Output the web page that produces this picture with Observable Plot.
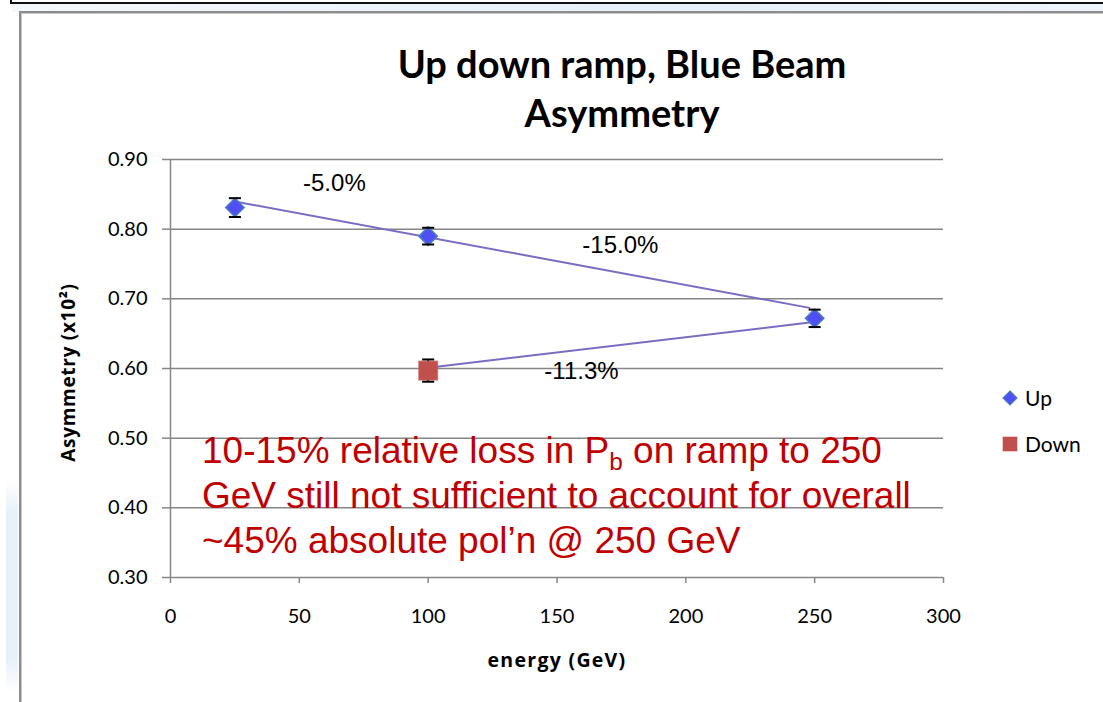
<!DOCTYPE html>
<html>
<head>
<meta charset="utf-8">
<script src="https://cdn.jsdelivr.net/npm/d3@7"></script>
<script src="https://cdn.jsdelivr.net/npm/@observablehq/plot@0.6"></script>
<style>
  html, body { margin: 0; padding: 0; background: #fff; }
  #wrap { position: relative; width: 1103px; height: 702px; overflow: hidden; background: #fff; }
  #wrap svg.plot { position: absolute; left: 0; top: 0; }
  .topline { position: absolute; left: 11px; top: 2px; right: 0; height: 2px; background: #111; }
  .topcorner { position: absolute; left: 10px; top: 0; width: 2px; height: 4px; background: #111; }
  .topband { position: absolute; left: 12px; top: 4px; right: 0; height: 8px; background: linear-gradient(90deg, #f4f8fc, #e6f0fa 60%, #eef5fb); }
  .sideband { position: absolute; left: 6px; top: 480px; width: 12px; height: 212px; background: linear-gradient(180deg, rgba(230,240,250,0), #e8f1fa 15%, #e8f1fa 85%, rgba(230,240,250,0)); }
  .frame { position: absolute; left: 19px; top: 11px; right: -4px; bottom: -4px; border-left: 2px solid #8c8c8c; border-top: 2px solid #8c8c8c; box-shadow: inset 1px 1px 0 #c8c8c8; }
  .title { position: absolute; left: 272px; width: 700px; top: 39px; text-align: center; font-family: Lato, "Open Sans", sans-serif; font-weight: 700; font-size: 38px; line-height: 49px; color: #000; white-space: nowrap; }
  .note { position: absolute; left: 202px; top: 428px; font-family: "Liberation Sans", Arial, sans-serif; font-size: 37px; line-height: 45px; color: #c00000; white-space: nowrap; }
  .note sub { font-size: 0.66em; vertical-align: -0.3em; line-height: 0; }
  .legend { position: absolute; left: 1002px; font-family: Lato, "Open Sans", sans-serif; font-size: 21px; color: #000; display: flex; align-items: center; }
  .legend svg { margin-right: 7px; }
  [aria-label="y-axis tick"], [aria-label="x-axis tick"] { color: #868686; }
</style>
</head>
<body>
<div id="wrap">
  <div class="topcorner"></div>
  <div class="topline"></div>
  <div class="topband"></div>
  <div class="sideband"></div>
  <div class="frame"></div>
  <div id="chart"></div>
  <div class="title">Up down ramp, Blue Beam<br>Asymmetry</div>
  <div class="note">10-15% relative loss in P<sub>b</sub> on ramp to 250<br>GeV still not sufficient to account for overall<br>~45% absolute pol’n @ 250 GeV</div>
  <div class="legend" style="top:385px;"><svg width="16" height="16"><path d="M8,1L15,8L8,15L1,8Z" fill="#4f4ff5" stroke="#4a7ebb" stroke-width="1.2"/></svg>Up</div>
  <div class="legend" style="top:431px;"><svg width="16" height="16"><rect x="1" y="1" width="14" height="14" fill="#c0504d" stroke="#c0504d" stroke-opacity="0.6"/></svg>Down</div>
</div>
<script>
// ---- data ----
const xTicks = [0, 50, 100, 150, 200, 250, 300];
const yTicks = [0.30, 0.40, 0.50, 0.60, 0.70, 0.80, 0.90];
const gridTicks = [0.40, 0.50, 0.60, 0.70, 0.80, 0.90];

const upEnergy = [25, 100, 250];
const upAsym = [0.831, 0.790, 0.672];
const upErr = [0.0135, 0.012, 0.0125];

const downEnergy = [100];
const downAsym = [0.597];
const downErr = [0.016];

// hand-drawn connector lines (endpoints)
const line1Energy = [26, 248];
const line1Asym = [0.839, 0.687];
const line2Energy = [100, 248];
const line2Asym = [0.601, 0.666];

// percentage labels
const pctText = ["-5.0%", "-15.0%", "-11.3%"];
const pctEnergy = [63.6, 174.6, 159.5];
const pctAsym = [0.8655, 0.7766, 0.5957];

const xLabel = "energy (GeV)";
const yLabel = "Asymmetry (x10²)";

// ---- tables ----
const up = upEnergy.map((e, i) => ({energy: e, asym: upAsym[i], lo: upAsym[i] - upErr[i], hi: upAsym[i] + upErr[i]}));
const down = downEnergy.map((e, i) => ({energy: e, asym: downAsym[i], lo: downAsym[i] - downErr[i], hi: downAsym[i] + downErr[i]}));
const errs = up.concat(down);
const line1 = line1Energy.map((e, i) => ({energy: e, asym: line1Asym[i]}));
const line2 = line2Energy.map((e, i) => ({energy: e, asym: line2Asym[i]}));
const pct = pctText.map((t, i) => ({text: t, energy: pctEnergy[i], asym: pctAsym[i]}));

const cap = { draw(ctx, size) { const w = Math.sqrt(size) / 2; ctx.moveTo(-w, 0); ctx.lineTo(w, 0); } };

const chart = Plot.plot({
  width: 1103,
  height: 702,
  marginLeft: 170,
  marginRight: 160,
  marginTop: 159,
  marginBottom: 125,
  style: { background: "transparent", fontFamily: "Lato, 'Open Sans', sans-serif", fontSize: "20px", color: "#000" },
  x: { domain: [0, 300] },
  y: { domain: [0.3, 0.9] },
  marks: [
    Plot.ruleY(gridTicks, { stroke: "#868686", strokeWidth: 1.5 }),
    Plot.ruleY([0.3], { stroke: "#868686", strokeWidth: 1.5 }),
    Plot.ruleX([0], { stroke: "#868686", strokeWidth: 1.5 }),
    Plot.axisY({ ticks: yTicks, tickFormat: d3.format(".2f"), tickSize: 8, tickPadding: 15, label: null, strokeWidth: 1.5 }),
    Plot.axisX({ ticks: xTicks, tickFormat: d3.format("d"), tickSize: 6, tickPadding: 25, label: null, strokeWidth: 1.5 }),
    Plot.line(line1, { x: "energy", y: "asym", stroke: "#7b6cc2", strokeWidth: 2 }),
    Plot.line(line2, { x: "energy", y: "asym", stroke: "#7b6cc2", strokeWidth: 2 }),
    Plot.ruleX(errs, { x: "energy", y1: "lo", y2: "hi", stroke: "#000", strokeWidth: 1.5 }),
    Plot.dot(up, { x: "energy", y: "asym", symbol: "diamond2", r: 8.3, fill: "#4f4ff5", stroke: "#4a7ebb", strokeWidth: 1.5 }),
    Plot.dot(down, { x: "energy", y: "asym", symbol: "square", r: 10.5, fill: "#c0504d", stroke: "#c0504d", strokeOpacity: 0.6 }),
    Plot.dot(errs, { x: "energy", y: "lo", symbol: cap, r: 6.8, stroke: "#000", strokeWidth: 2 }),
    Plot.dot(errs, { x: "energy", y: "hi", symbol: cap, r: 6.8, stroke: "#000", strokeWidth: 2 }),
    Plot.text(pct, { x: "energy", y: "asym", text: "text", fontFamily: "'Liberation Sans', Arial, sans-serif", fontSize: 24, fill: "#000" }),
    Plot.text([yLabel], { frameAnchor: "left", textAnchor: "middle", rotate: -90, dx: -102, dy: 4, fontFamily: "'Open Sans', Lato, sans-serif", fontWeight: "bold", fontSize: 19, fill: "#000" }),
    Plot.text([xLabel], { frameAnchor: "bottom", dy: 89, fontFamily: "'Open Sans', Lato, sans-serif", fontWeight: "bold", fontSize: 19.5, fill: "#000" })
  ]
});
chart.classList.add("plot");
// slight letter spacing for the spaced-out axis titles
chart.querySelectorAll("text").forEach(t => {
  if (t.textContent === xLabel) t.style.letterSpacing = "1.3px";
  if (t.textContent === yLabel) t.style.letterSpacing = "0.7px";
});
document.getElementById("chart").appendChild(chart);
</script>
</body>
</html>
